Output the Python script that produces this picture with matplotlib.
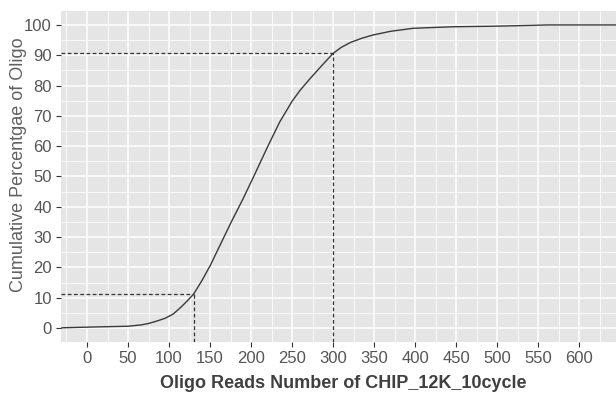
import numpy as np
import matplotlib
matplotlib.use("Agg")
import matplotlib.pyplot as plt
from matplotlib.ticker import MultipleLocator

# values
reads = [-32, -29, 0, 25, 50, 65, 75, 85, 95, 105, 115, 122, 130, 140, 150, 162,
         175, 190, 205, 220, 235, 250, 260, 272, 288, 300, 310, 321, 335, 349,
         370, 398, 446, 500, 548, 560, 646]
cum_pct = [0, 0.1, 0.3, 0.45, 0.6, 1.0, 1.5, 2.3, 3.2, 4.6, 7.0, 8.9, 11.2, 15.6, 20.5, 27.2,
           34.5, 42.5, 51.0, 59.7, 68.0, 74.8, 78.5, 82.3, 87.1, 90.6, 92.6, 94.2, 95.6, 96.7,
           97.9, 98.9, 99.4, 99.6, 99.9, 100, 100]
mark_x = [130, 300]
mark_y = [11.2, 90.8]

plt.rcParams['font.family'] = ['Liberation Sans', 'DejaVu Sans']

fig = plt.figure(figsize=(6.16, 3.95), dpi=100)
ax = fig.add_axes([61/616, 1-342/395, 555/616, 331/395])

xlo, xhi = -31.7, 645
ylo, yhi = -4.6, 104.6
ax.set_xlim(xlo, xhi)
ax.set_ylim(ylo, yhi)

ax.set_facecolor('#E5E5E5')
for s in ax.spines.values():
    s.set_visible(False)

ax.xaxis.set_major_locator(MultipleLocator(50))
ax.xaxis.set_minor_locator(MultipleLocator(25))
ax.yaxis.set_major_locator(MultipleLocator(10))
ax.yaxis.set_minor_locator(MultipleLocator(5))
ax.grid(which='major', color='white', lw=1.1)
ax.grid(which='minor', color='white', lw=0.55)
ax.set_axisbelow(True)

ax.tick_params(which='major', length=3.5, width=0.8, color='#333333',
               labelsize=12, labelcolor='#555555', pad=3)
ax.tick_params(which='minor', length=0)

ax.plot(reads, cum_pct, color='#3A3A3A', lw=1.0)

for mx, my in zip(mark_x, mark_y):
    ax.plot([xlo, mx], [my, my], ls=(0, (3, 2)), color='#333333', lw=0.9)
    ax.plot([mx, mx], [ylo, my], ls=(0, (3, 2)), color='#333333', lw=0.9)

ax.set_xlabel('Oligo Reads Number of CHIP_12K_10cycle', fontsize=13,
              fontweight='bold', color='#404040')
ax.xaxis.set_label_coords((343-61)/555, (342-375)/331)
ax.set_ylabel('Cumulative Percentgae of Oligo', fontsize=13,
              color='#606060')
ax.yaxis.set_label_coords((27-61)/555, (342-164.5)/331)

fig.savefig('out.png', dpi=100)
